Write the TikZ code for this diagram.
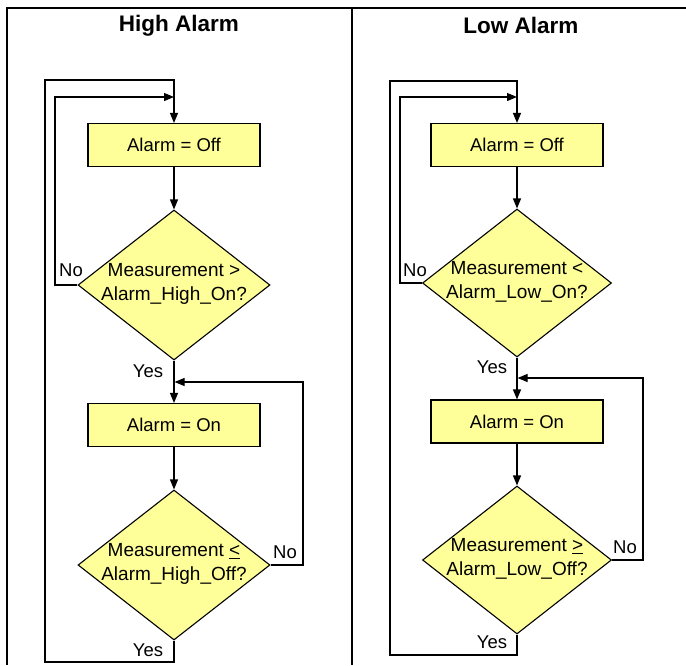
\documentclass[tikz,border=0pt]{standalone}
\usepackage{fontspec}
\setmainfont{Liberation Sans}
\usetikzlibrary{shapes.geometric,arrows.meta}
\definecolor{boxyellow}{RGB}{255,255,153}
\tikzset{
  procbox/.style={draw=black,line width=1.1pt,fill=boxyellow,minimum width=172pt,minimum height=43pt,inner sep=0pt,font=\fontsize{18.5}{22}\selectfont},
  decbox/.style={diamond,draw=black,line width=1.1pt,fill=boxyellow,minimum width=192pt,minimum height=150pt,inner sep=0pt},
  dectext/.style={align=center,inner sep=0pt,font=\fontsize{19}{23.5}\selectfont},
  lbl/.style={inner sep=0pt,font=\fontsize{18.5}{22}\selectfont},
  ttl/.style={inner sep=0pt,font=\fontsize{22.5}{26}\selectfont\bfseries},
  conn/.style={line width=1.2pt,draw=black},
  arr/.style={conn,-{Triangle[length=10pt,width=8pt]}},
  frame/.style={line width=2pt,draw=black}
}
\begin{document}
\begin{tikzpicture}[x=1pt,y=-1pt]
\useasboundingbox (0,0) rectangle (686,665);
% frame
\draw[frame] (6.5,665) -- (6.5,8) -- (686,8);
\draw[frame] (352,8) -- (352,665);
\node[ttl] (t1) at (179,25.5) {High Alarm};
\node[ttl] (t2) at (521,25.5) {Low Alarm};

% ---------- High alarm ----------
\node[procbox] (hb1) at (174,145) {Alarm = Off};
\node[decbox] (hd1) at (174,285) {};
\node[dectext] at (174,284) {Measurement >\\Alarm\_High\_On?};
\node[procbox] (hb2) at (174,425) {Alarm = On};
\node[decbox] (hd2) at (174,565) {};
\node[dectext] at (174,564) {Measurement \underline{<}\\Alarm\_High\_Off?};

\coordinate (hin) at (55,97);
\coordinate (hout) at (45,80);
\coordinate (hbot) at (45,662);
\coordinate (hright) at (303,382);

\draw[arr] (hb1.south) -- (hd1.north);
\draw[arr] (hd1.south) -- (hb2.north);
\draw[arr] (hb2.south) -- (hd2.north);
\draw[arr] (hd1.west) -| (hin) -- (hin -| hb1.north);
\draw[arr] (hd2.south) |- (hbot) |- (hout) -| (hb1.north);
\draw[arr] (hd2.east) -| (hright) -- ([xshift=0.6pt]hright -| hb2.north);

\node[lbl] at (71,270) {No};
\node[lbl] at (148,371) {Yes};
\node[lbl] at (285,552) {No};
\node[lbl] at (148,650) {Yes};

% ---------- Low alarm ----------
\node[procbox] (lb1) at (517,145) {Alarm = Off};
\node[decbox,minimum width=189pt,minimum height=148pt] (ld1) at (517,283) {};
\node[dectext] at (517,282) {Measurement <\\Alarm\_Low\_On?};
\node[procbox] (lb2) at (517,421.5) {Alarm = On};
\node[decbox,minimum width=189pt,minimum height=148pt] (ld2) at (517,560) {};
\node[dectext] at (517,559) {Measurement \underline{>}\\Alarm\_Low\_Off?};

\coordinate (lin) at (400,97);
\coordinate (lout) at (390,81);
\coordinate (lbot) at (390,655);
\coordinate (lright) at (643,378);

\draw[arr] (lb1.south) -- (ld1.north);
\draw[arr] (ld1.south) -- (lb2.north);
\draw[arr] (lb2.south) -- (ld2.north);
\draw[arr] (ld1.west) -| (lin) -- (lin -| lb1.north);
\draw[arr] (ld2.south) |- (lbot) |- (lout) -| (lb1.north);
\draw[arr] (ld2.east) -| (lright) -- ([xshift=0.6pt]lright -| lb2.north);

\node[lbl] at (415,270) {No};
\node[lbl] at (492,367) {Yes};
\node[lbl] at (625,547) {No};
\node[lbl] at (492,642) {Yes};
\end{tikzpicture}
\end{document}
